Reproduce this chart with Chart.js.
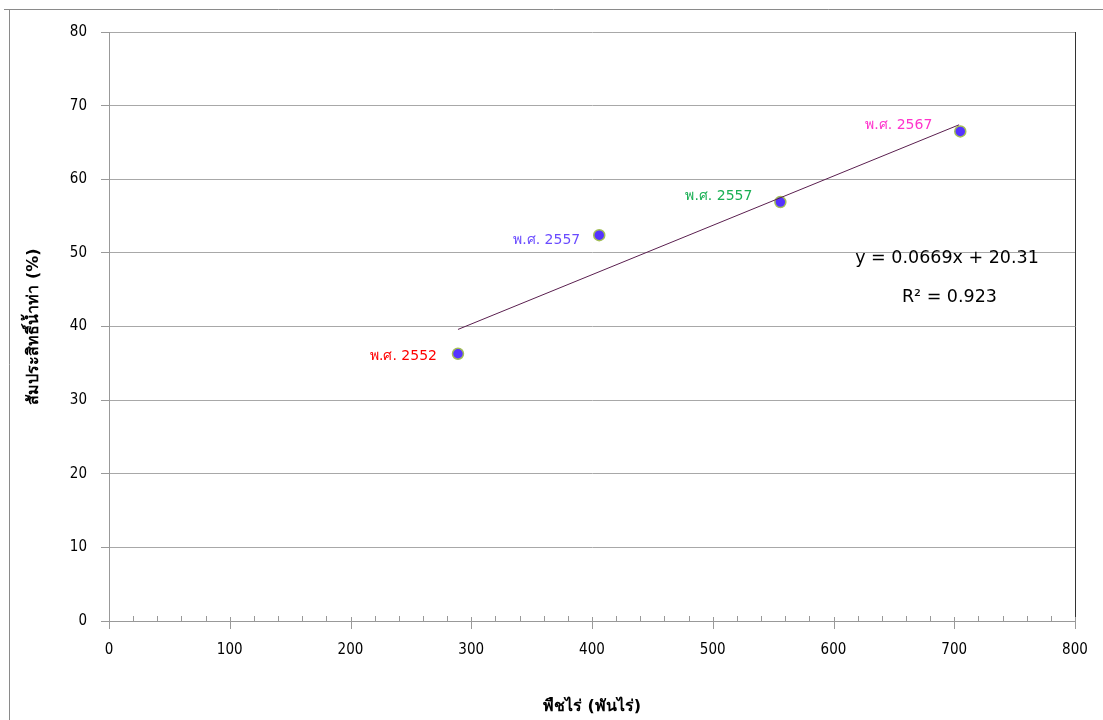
<!DOCTYPE html>
<html>
<head>
<meta charset="utf-8">
<script src="https://cdn.jsdelivr.net/npm/chart.js@4/dist/chart.umd.min.js"></script>
<style>
  html, body { margin: 0; padding: 0; background: #fff; }
  #wrap { width: 1103px; height: 720px; }
</style>
</head>
<body>
<div id="wrap"><canvas id="c" width="1103" height="720"></canvas></div>
<script>
// field crop area (thousand rai) vs runoff coefficient (%)
const cropArea = [289, 406, 556, 705];
const runoffCoef = [36.3, 52.4, 56.9, 66.5];
const yearLabels = ['พ.ศ. 2552', 'พ.ศ. 2557', 'พ.ศ. 2557', 'พ.ศ. 2567'];
const labelColors = ['#ff0000', '#6a4cff', '#1aaf54', '#ff33cc'];

// trend line end points as drawn
const trendX = [289, 704];
const trendY = [39.6, 67.4];

const equationText = 'y = 0.0669x + 20.31';
const r2Text = 'R² = 0.923';

const xTitle = 'พืชไร่ (พันไร่)';
const yTitle = 'สัมประสิทธิ์น้ำท่า (%)';

const FONT = "'DejaVu Sans', Verdana, sans-serif";
const TICK_FONT = "'DejaVu Sans Condensed', 'DejaVu Sans', sans-serif";

const pointLabelPlugin = {
    id: 'pointLabelPlugin',
    afterDatasetsDraw(chart) {
        const {ctx} = chart;
        const meta = chart.getDatasetMeta(1);
        // label offsets relative to each point
        const offsets = [[-21, 3], [-19, 5], [-28, -6], [-28, -6]];
        ctx.save();
        ctx.font = '14px ' + FONT;
        ctx.textAlign = 'right';
        ctx.textBaseline = 'middle';
        meta.data.forEach((pt, i) => {
            ctx.fillStyle = labelColors[i];
            ctx.fillText(yearLabels[i], pt.x + offsets[i][0], pt.y + offsets[i][1]);
        });

        // regression text
        const x = chart.scales.x, y = chart.scales.y;
        ctx.fillStyle = '#000';
        ctx.font = '17.5px ' + FONT;
        ctx.textAlign = 'center';
        ctx.fillText(equationText, x.getPixelForValue(694), y.getPixelForValue(49.3));
        ctx.fillText(r2Text, x.getPixelForValue(696), y.getPixelForValue(44.0));
        ctx.restore();
    }
};

const framePlugin = {
    id: 'framePlugin',
    beforeDraw(chart) {
        const {ctx, width, height} = chart;
        ctx.save();
        ctx.strokeStyle = '#8a8a8a';
        ctx.lineWidth = 1;
        ctx.beginPath();
        ctx.moveTo(4, 9.5);
        ctx.lineTo(width, 9.5);
        ctx.moveTo(9.5, 9.5);
        ctx.lineTo(9.5, height);
        ctx.stroke();
        ctx.restore();
    },
    afterDraw(chart) {
        const {ctx, chartArea: {top, bottom, left, right}, scales: {x}} = chart;
        ctx.save();
        // right border of plot area
        ctx.strokeStyle = '#333';
        ctx.lineWidth = 1;
        ctx.beginPath();
        ctx.moveTo(Math.round(right) + 0.5, top);
        ctx.lineTo(Math.round(right) + 0.5, bottom);
        ctx.stroke();
        // x axis tick marks: minor ticks inward, major ticks across
        ctx.strokeStyle = '#999';
        ctx.beginPath();
        for (let v = 0; v <= 800; v += 20) {
            const px = Math.round(x.getPixelForValue(v)) + 0.5;
            if (v % 100 === 0) {
                ctx.moveTo(px, bottom - 4);
                ctx.lineTo(px, bottom + 8);
            } else {
                ctx.moveTo(px, bottom - 5);
                ctx.lineTo(px, bottom);
            }
        }
        ctx.stroke();
        ctx.restore();
    }
};

new Chart(document.getElementById('c'), {
    type: 'scatter',
    data: {
        datasets: [
            {
                type: 'line',
                label: 'trend',
                data: trendX.map((v, i) => ({x: v, y: trendY[i]})),
                borderColor: '#5a1f4f',
                borderWidth: 1,
                pointRadius: 0,
                fill: false
            },
            {
                label: 'points',
                data: cropArea.map((v, i) => ({x: v, y: runoffCoef[i]})),
                backgroundColor: '#5533ff',
                borderColor: '#a3bf55',
                borderWidth: 1.5,
                pointRadius: 5.5
            }
        ]
    },
    options: {
        responsive: false,
        animation: false,
        layout: {padding: {top: 32, right: 28, left: 20, bottom: 0}},
        plugins: {
            legend: {display: false},
            tooltip: {enabled: false}
        },
        scales: {
            x: {
                type: 'linear',
                min: 0,
                max: 800,
                afterFit(scale) { scale.height = 99; },
                ticks: {
                    stepSize: 100,
                    color: '#000',
                    font: {family: TICK_FONT, size: 15},
                    padding: 12
                },
                grid: {display: false},
                border: {color: '#999'},
                title: {
                    display: true,
                    text: xTitle,
                    color: '#000',
                    font: {family: FONT, size: 16, weight: 'bold'},
                    padding: {top: 26}
                }
            },
            y: {
                min: 0,
                max: 80,
                afterFit(scale) { scale.width = 89; },
                ticks: {
                    stepSize: 10,
                    color: '#000',
                    font: {family: TICK_FONT, size: 15},
                    padding: 14
                },
                grid: {
                    color: '#a8a8a8',
                    tickColor: '#999',
                    tickLength: 8
                },
                border: {color: '#999'},
                title: {
                    display: true,
                    text: yTitle,
                    color: '#000',
                    font: {family: FONT, size: 16, weight: 'bold'},
                    padding: {bottom: 8}
                }
            }
        }
    },
    plugins: [pointLabelPlugin, framePlugin]
});
</script>
</body>
</html>
